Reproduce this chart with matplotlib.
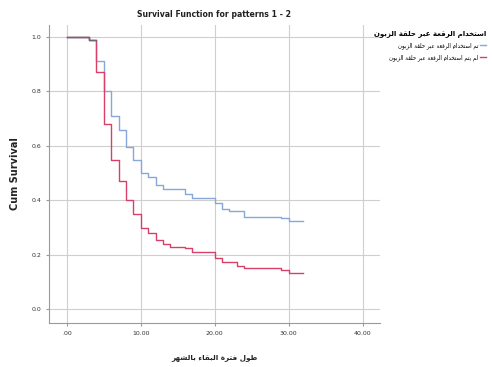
## Kaplan-Meier style survival curves for two groups (SPSS look)

import matplotlib
matplotlib.use('Agg')
import matplotlib.pyplot as plt

# step times (months) and cumulative survival
times_used = [0, 3, 4, 5, 6, 7, 8, 9, 10, 11, 12, 13, 16, 17, 20, 21, 22, 24, 29, 30, 32]
surv_used = [1.0, 0.99, 0.91, 0.80, 0.71, 0.66, 0.595, 0.55, 0.50, 0.485, 0.455, 0.44,
             0.425, 0.41, 0.39, 0.37, 0.36, 0.34, 0.335, 0.325, 0.325]

times_not = [0, 3, 4, 5, 6, 7, 8, 9, 10, 11, 12, 13, 14, 16, 17, 20, 21, 23, 24, 29, 30, 32]
surv_not = [1.0, 0.99, 0.87, 0.68, 0.55, 0.47, 0.40, 0.35, 0.30, 0.28, 0.255, 0.24, 0.23,
            0.225, 0.21, 0.19, 0.175, 0.16, 0.15, 0.145, 0.135, 0.135]

x_ticks = [0, 10, 20, 30, 40]
x_tick_labels = ['.00', '10.00', '20.00', '30.00', '40.00']
y_ticks = [0.0, 0.2, 0.4, 0.6, 0.8, 1.0]

title = 'Survival Function for patterns 1 - 2'
x_label = 'طول فترة البقاء بالشهر'
legend_title = 'استخدام الرقعة عبر حلقة الزبون'
group_names = ['تم استخدام الرقعة عبر حلقة الزبون', 'لم يتم استخدام الرقعة عبر حلقة الزبون']

# matplotlib does no Arabic shaping, so pick presentation forms by hand and reverse
_arabic = {'ا': (0xFE8D, 2), 'أ': (0xFE83, 2), 'إ': (0xFE87, 2), 'آ': (0xFE81, 2),
           'ب': (0xFE8F, 4), 'ت': (0xFE95, 4), 'ة': (0xFE93, 2), 'ث': (0xFE99, 4),
           'ج': (0xFE9D, 4), 'ح': (0xFEA1, 4), 'خ': (0xFEA5, 4), 'د': (0xFEA9, 2),
           'ذ': (0xFEAB, 2), 'ر': (0xFEAD, 2), 'ز': (0xFEAF, 2), 'س': (0xFEB1, 4),
           'ش': (0xFEB5, 4), 'ص': (0xFEB9, 4), 'ض': (0xFEBD, 4), 'ط': (0xFEC1, 4),
           'ظ': (0xFEC5, 4), 'ع': (0xFEC9, 4), 'غ': (0xFECD, 4), 'ف': (0xFED1, 4),
           'ق': (0xFED5, 4), 'ك': (0xFED9, 4), 'ل': (0xFEDD, 4), 'م': (0xFEE1, 4),
           'ن': (0xFEE5, 4), 'ه': (0xFEE9, 4), 'و': (0xFEED, 2), 'ى': (0xFEEF, 2),
           'ي': (0xFEF1, 4), 'ء': (0xFE80, 1), 'ؤ': (0xFE85, 2), 'ئ': (0xFE89, 4)}


def shape(text):
    out = []
    for i, ch in enumerate(text):
        if ch not in _arabic:
            out.append(ch)
            continue
        code, n = _arabic[ch]
        prev = text[i - 1] if i > 0 else ''
        nxt = text[i + 1] if i + 1 < len(text) else ''
        join_prev = prev in _arabic and _arabic[prev][1] == 4
        join_next = n == 4 and nxt in _arabic and _arabic[nxt][1] > 1
        if join_prev and join_next:
            form = 3
        elif join_prev:
            form = 1
        elif join_next:
            form = 2
        else:
            form = 0
        if n == 1:
            form = 0
        out.append(chr(code + form))
    return ''.join(out)[::-1]


plt.rcParams['font.family'] = ['DejaVu Sans']

fig = plt.figure(figsize=(4.92, 3.67), dpi=100)
ax = fig.add_axes([0.0996, 0.12, 0.672, 0.812])

blue = '#86a8da'
red = '#d8406a'

ax.step(times_used, surv_used, where='post', color=blue, lw=1.0, label=shape(group_names[0]))
ax.step(times_not, surv_not, where='post', color=red, lw=1.0, label=shape(group_names[1]))
# overlapping start drawn darker like the reference
ax.step(times_used[:3], [1.0, 0.99, 0.99], where='post', color='#6a6a6a', lw=1.0)

ax.set_xlim(-2.4, 42.3)
ax.set_ylim(-0.05, 1.044)
ax.set_xticks(x_ticks)
ax.set_xticklabels(x_tick_labels)
ax.set_yticks(y_ticks)
ax.set_yticklabels([f'{v:.1f}' for v in y_ticks])
ax.tick_params(labelsize=4.5, length=2, color='#999999', labelcolor='#333333')

ax.grid(True, color='#cfcfcf', lw=0.8)
ax.set_axisbelow(True)
for side in ['top', 'right']:
    ax.spines[side].set_visible(False)
for side in ['left', 'bottom']:
    ax.spines[side].set_color('#9a9a9a')
    ax.spines[side].set_linewidth(0.8)

ax.set_title(title, fontsize=5.6, pad=6, color='#222222', fontweight='bold')
ax.set_xlabel(shape(x_label), fontsize=5.2, labelpad=13, color='#222222', fontweight='bold')
ax.set_ylabel('Cum Survival', fontsize=7, labelpad=8, color='#222222', fontweight='bold')

leg = ax.legend(title=shape(legend_title), loc='upper left', bbox_to_anchor=(0.975, 0.99),
                frameon=False, fontsize=4.0, title_fontsize=5.0, markerfirst=False,
                handlelength=1.0, handletextpad=0.3, labelspacing=0.9,
                alignment='right', borderaxespad=0.0)
leg.get_title().set_fontweight('bold')

fig.savefig('out.png', dpi=100)
